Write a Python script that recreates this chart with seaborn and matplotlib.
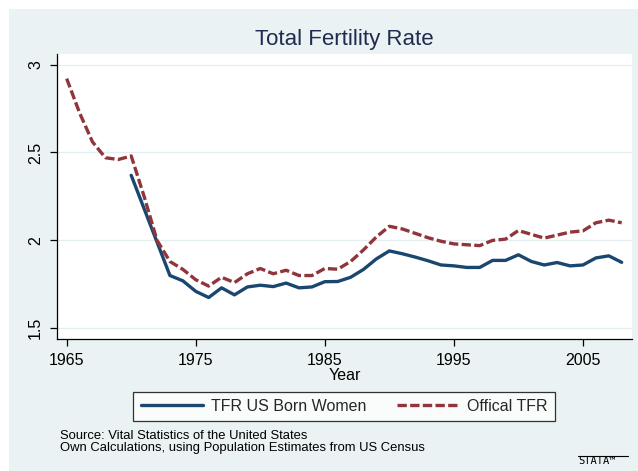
import pandas as pd
import seaborn as sns
import matplotlib.pyplot as plt
from matplotlib.patches import Rectangle
from matplotlib.lines import Line2D

# ===== data =====
years_official = list(range(1965, 2009))
tfr_official = [2.92, 2.725, 2.56, 2.47, 2.46, 2.48, 2.25, 2.00, 1.88, 1.835,
                1.776, 1.74, 1.79, 1.76, 1.81, 1.84, 1.81, 1.83, 1.80, 1.80,
                1.84, 1.836, 1.88, 1.946, 2.02, 2.08, 2.065, 2.04, 2.015, 1.995,
                1.98, 1.975, 1.97, 2.00, 2.007, 2.056, 2.034, 2.013, 2.03, 2.047,
                2.054, 2.10, 2.115, 2.10]

years_usborn = list(range(1970, 2009))
tfr_usborn = [2.37, 2.18, 1.99, 1.80, 1.77, 1.71, 1.675, 1.73, 1.69, 1.735,
              1.745, 1.737, 1.757, 1.73, 1.735, 1.765, 1.766, 1.79, 1.835, 1.895,
              1.94, 1.924, 1.905, 1.884, 1.86, 1.855, 1.846, 1.846, 1.886, 1.886,
              1.918, 1.88, 1.86, 1.874, 1.855, 1.86, 1.90, 1.912, 1.875]

series_names = ["TFR US Born Women", "Offical TFR"]
x_ticks = [1965, 1975, 1985, 1995, 2005]
y_ticks = [1.5, 2, 2.5, 3]
y_ticklabels = ["1.5", "2", "2.5", "3"]

df = pd.concat([
    pd.DataFrame({"Year": years_usborn, "TFR": tfr_usborn, "series": series_names[0]}),
    pd.DataFrame({"Year": years_official, "TFR": tfr_official, "series": series_names[1]}),
], ignore_index=True)

# ===== style =====
sns.set_theme(style="white")
plt.rcParams["font.family"] = ["Liberation Sans", "DejaVu Sans"]

W, H = 638, 471
fig = plt.figure(figsize=(W / 100, H / 100), dpi=100, facecolor="white")
bg = "#eaf2f3"
fig.patches.append(Rectangle((9 / W, 0), 1, 1 - 9 / H, transform=fig.transFigure,
                             facecolor=bg, edgecolor="none", zorder=-10))

ax = fig.add_axes([57 / W, 1 - 339 / H, (632 - 57) / W, (339 - 54) / H])
ax.set_facecolor("white")

palette = {series_names[0]: "#1a476f", series_names[1]: "#90353b"}
dashes = {series_names[0]: "", series_names[1]: (2.8, 1.0)}
sns.lineplot(data=df, x="Year", y="TFR", hue="series", style="series",
             palette=palette, dashes=dashes, linewidth=2.4, ax=ax)

handles, labels = ax.get_legend_handles_labels()
ax.get_legend().remove()
for h in handles:
    h.set_linewidth(2.4)

ax.set_xlim(1964.25, 2008.8)
ax.set_ylim(1.439, 3.06)
ax.set_xticks(x_ticks)
ax.set_yticks(y_ticks)
ax.set_yticklabels(y_ticklabels, rotation=90, va="center")
ax.grid(axis="y", color="#e4eef0", linewidth=1.0)
ax.set_axisbelow(True)

for s in ["top", "right"]:
    ax.spines[s].set_visible(False)
for s in ["left", "bottom"]:
    ax.spines[s].set_color("black")
    ax.spines[s].set_linewidth(0.9)

ax.tick_params(axis="both", which="major", direction="out", length=5, width=0.9,
               color="black", labelsize=11.5, pad=5, labelcolor="black")
ax.tick_params(left=True, bottom=True)
ax.set_xlabel("Year", fontsize=11.5, labelpad=0, color="black")
ax.set_ylabel("")

fig.text(344.5 / W, 1 - 39 / H, "Total Fertility Rate", ha="center", va="center",
         fontsize=16, color="#1f2c4f")

leg = fig.legend(handles, labels, loc="center", ncol=2,
                 bbox_to_anchor=(344 / W, 1 - 406.5 / H), fontsize=11.5,
                 handlelength=3.9, handletextpad=0.5, columnspacing=1.9,
                 frameon=True, fancybox=False, borderpad=0.45, borderaxespad=0)
leg.get_frame().set_edgecolor("black")
leg.get_frame().set_linewidth(0.9)
leg.get_frame().set_facecolor("white")

fig.text(60 / W, 1 - 436 / H, "Source: Vital Statistics of the United States",
         fontsize=9.4, va="center", ha="left", color="black")
fig.text(60 / W, 1 - 448.5 / H, "Own Calculations, using Population Estimates from US Census",
         fontsize=9.4, va="center", ha="left", color="black")

# small Stata mark
fig.text(578 / W, 1 - 461 / H, "STATA\u2122", fontsize=7.5, va="center", ha="left",
         color="black", family=["DejaVu Sans Mono", "DejaVu Sans"])
fig.lines.append(Line2D([578 / W, 628 / W], [1 - 456 / H, 1 - 456 / H],
                        transform=fig.transFigure, color="black", linewidth=0.8))

fig.savefig("out.png", dpi=100, facecolor=fig.get_facecolor())
